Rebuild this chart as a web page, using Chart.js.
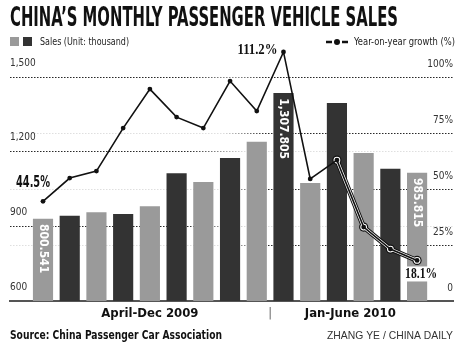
<!DOCTYPE html>
<html lang="en">
<head>
<meta charset="UTF-8">
<title>China's monthly passenger vehicle sales</title>
<script src="https://cdn.jsdelivr.net/npm/chart.js@4.4.1/dist/chart.umd.min.js"></script>
<style>
  body { margin: 0; background: #fff; }
</style>
</head>
<body>
<canvas id="salesChart" width="470" height="350"></canvas>
<script>
// monthly data, April 2009 - June 2010
const months = ['Apr 2009', 'May 2009', 'Jun 2009', 'Jul 2009', 'Aug 2009', 'Sep 2009', 'Oct 2009', 'Nov 2009', 'Dec 2009',
                'Jan 2010', 'Feb 2010', 'Mar 2010', 'Apr 2010', 'May 2010', 'Jun 2010'];
const sales = [800.541, 812.7, 826.0, 819.5, 851.0, 983.4, 948.7, 1045.5, 1111.3, 1307.805, 944.6, 1267.5, 1065.7, 1002.3, 985.815];
const growth = [44.5, 54.9, 58.0, 77.2, 94.6, 82.1, 77.2, 98.2, 84.8, 111.2, 54.5, 62.9, 33.0, 23.2, 18.1];

const salesTicks = [600, 900, 1200, 1500];
const growthTicks = [0, 25, 50, 75, 100];
const periodLabels = ['April-Dec 2009', 'Jan-June 2010'];
const periodLengths = [9, 6];
const labelledMonths = [0, 9, 14];
const haloFrom = 11; // from Feb 2010 the line gets a white outline

const NARROW = "'Liberation Sans Narrow', 'DejaVu Sans Condensed', sans-serif";
const LIGHT = '#9a9a9a', DARK = '#333333';
const barColors = months.map((m, i) => i % 2 === 0 ? LIGHT : DARK);

// x positions are month numbers 1..15
const xs = months.map((m, i) => i + 1);
const salesPoints = sales.map((v, i) => ({ x: xs[i], y: v }));
const growthPoints = growth.map((v, i) => ({ x: xs[i], y: v }));
const haloPoints = growth.map((v, i) => ({ x: xs[i], y: i >= haloFrom ? v : null }));

// period labels centred under their months, separator between them
const xTicks = [];
let start = 1;
periodLabels.forEach((lab, k) => {
    const end = start + periodLengths[k] - 1;
    if (k > 0) xTicks.push({ value: start - 0.5, label: '|' });
    xTicks.push({ value: (start + end) / 2, label: lab });
    start = end + 1;
});

function fadeGrid(ctx, fromLeft) {
    const area = ctx.chart.chartArea;
    if (ctx.index === 0) return 'rgba(0,0,0,0)';
    if (!area) return '#444';
    const g = ctx.chart.ctx.createLinearGradient(area.left, 0, area.right, 0);
    const dark = 'rgba(30,30,30,0.95)', faint = 'rgba(30,30,30,0.14)';
    if (fromLeft) {
        g.addColorStop(0, dark); g.addColorStop(0.4, dark);
        g.addColorStop(0.53, faint); g.addColorStop(1, faint);
    } else {
        g.addColorStop(0, faint); g.addColorStop(0.48, faint);
        g.addColorStop(0.58, dark); g.addColorStop(1, dark);
    }
    return g;
}

const decorations = {
    id: 'decorations',
    afterDatasetsDraw(chart) {
        const c = chart.ctx;
        const bars = chart.getDatasetMeta(0).data;
        const pts = chart.getDatasetMeta(3).data;
        c.save();

        // values written down inside the bars
        c.fillStyle = '#fff';
        c.font = 'bold 12px ' + NARROW;
        c.textAlign = 'left';
        c.textBaseline = 'middle';
        labelledMonths.forEach(i => {
            const b = bars[i];
            c.save();
            c.translate(b.x, b.y + 5);
            c.rotate(Math.PI / 2);
            c.fillText(sales[i].toLocaleString('en-US', { minimumFractionDigits: 3 }), 0, 0);
            c.restore();
        });

        // growth labels
        const txt = i => growth[i].toFixed(1) + '%';
        let p = pts[labelledMonths[0]];
        c.fillStyle = '#111';
        c.font = 'bold 15px ' + NARROW;
        c.textAlign = 'right';
        c.fillText(txt(labelledMonths[0]), p.x + 7, p.y - 18, 34);

        p = pts[labelledMonths[1]];
        c.font = "bold 14px 'Liberation Serif', serif";
        c.fillText(txt(labelledMonths[1]), p.x - 6, p.y - 2, 40);

        p = pts[labelledMonths[2]];
        c.fillStyle = '#fff';
        c.fillRect(p.x - 15, p.y + 6, 37, 15);
        c.fillStyle = '#111';
        c.textAlign = 'center';
        c.font = "bold 15px 'Liberation Serif', serif";
        c.fillText(txt(labelledMonths[2]), p.x + 4, p.y + 14, 32);
        c.restore();
    },
    afterDraw(chart) {
        const c = chart.ctx;
        const ds = chart.data.datasets;
        c.save();
        c.fillStyle = '#111';
        c.textAlign = 'left';
        c.textBaseline = 'alphabetic';
        c.font = 'bold 27px ' + NARROW;
        c.fillText('CHINA\u2019S MONTHLY PASSENGER VEHICLE SALES', 10, 26, 388);

        // legend
        c.fillStyle = LIGHT; c.fillRect(10, 37, 9, 9);
        c.fillStyle = DARK; c.fillRect(23, 37, 9, 9);
        c.fillStyle = '#222';
        c.textBaseline = 'middle';
        c.font = '11px ' + NARROW;
        c.fillText(ds[0].label, 40, 42, 89);

        c.strokeStyle = '#111';
        c.lineWidth = 2.5;
        c.beginPath();
        c.moveTo(326, 42); c.lineTo(332, 42);
        c.moveTo(342, 42); c.lineTo(348, 42);
        c.stroke();
        c.beginPath();
        c.arc(337, 42, 3, 0, Math.PI * 2);
        c.fillStyle = '#111';
        c.fill();
        c.fillStyle = '#222';
        c.fillText(ds[3].label, 354, 42, 101);

        // footer
        c.fillStyle = '#111';
        c.font = 'bold 13px ' + NARROW;
        c.fillText('Source: China Passenger Car Association', 10, 336, 212);
        c.fillStyle = '#333';
        c.font = "11px 'Liberation Sans', sans-serif";
        c.textAlign = 'right';
        c.fillText('ZHANG YE / CHINA DAILY', 453, 336, 126);
        c.restore();
    }
};

new Chart(document.getElementById('salesChart'), {
    type: 'bar',
    data: {
        datasets: [
            { type: 'bar', label: 'Sales (Unit: thousand)', data: salesPoints, backgroundColor: barColors,
              yAxisID: 'ySales', barThickness: 19.5, order: 10 },
            { type: 'line', data: haloPoints, borderColor: '#111', borderWidth: 5, pointRadius: 4.6,
              pointBackgroundColor: '#111', pointBorderWidth: 0, yAxisID: 'yPct', order: 3 },
            { type: 'line', data: haloPoints, borderColor: '#fff', borderWidth: 3, pointRadius: 3.4,
              pointBackgroundColor: '#fff', pointBorderWidth: 0, yAxisID: 'yPct', order: 2 },
            { type: 'line', label: 'Year-on-year growth (%)', data: growthPoints, borderColor: '#111', borderWidth: 1.6,
              pointRadius: 2.4, pointBackgroundColor: '#111', pointBorderWidth: 0, yAxisID: 'yPct', order: 1 }
        ]
    },
    options: {
        responsive: false,
        animation: false,
        devicePixelRatio: 1,
        layout: { padding: { top: 45, left: 10, right: 17, bottom: 0 } },
        plugins: { legend: { display: false }, tooltip: { enabled: false } },
        elements: { line: { tension: 0 } },
        scales: {
            x: {
                type: 'linear', min: -0.235, max: 16.344, offset: false,
                grid: { display: false, drawTicks: false },
                border: { display: true, color: '#555', width: 2 },
                afterBuildTicks: axis => { axis.ticks = xTicks.map(t => ({ value: t.value })); },
                afterFit: axis => { axis.height = 49; },
                ticks: {
                    autoSkip: false, maxRotation: 0, padding: 5,
                    callback: (v, i) => xTicks[i].label,
                    color: ctx => xTicks[ctx.index] && xTicks[ctx.index].label === '|' ? '#777' : '#111',
                    font: ctx => xTicks[ctx.index] && xTicks[ctx.index].label === '|'
                        ? { family: "'DejaVu Sans', sans-serif", size: 13 }
                        : { family: NARROW, size: 13, weight: 'bold' }
                }
            },
            y: {
                position: 'left', min: 600, max: 1628.6,
                afterBuildTicks: axis => { axis.ticks = salesTicks.map(v => ({ value: v })); },
                afterFit: axis => { axis.width = 0; },
                grid: { color: ctx => fadeGrid(ctx, true), drawTicks: false, lineWidth: 1 },
                border: { display: false, dash: [1.5, 1.5] },
                ticks: { mirror: true, padding: 0, labelOffset: -14, color: '#333',
                         font: { family: NARROW, size: 10 },
                         callback: v => v.toLocaleString('en-US') }
            },
            ySales: { display: false, min: 469.7, max: 1502.7 },
            yPct: {
                position: 'right', min: 0, max: 114.3,
                afterBuildTicks: axis => { axis.ticks = growthTicks.map(v => ({ value: v })); },
                afterFit: axis => { axis.width = 0; },
                grid: { color: ctx => fadeGrid(ctx, false), drawTicks: false, lineWidth: 1 },
                border: { display: false, dash: [1.5, 1.5] },
                ticks: { mirror: true, padding: 0, labelOffset: -13, color: '#333',
                         font: { family: NARROW, size: 10 },
                         callback: v => v === 0 ? '0' : v + '%' }
            }
        }
    },
    plugins: [decorations]
});
</script>
</body>
</html>
